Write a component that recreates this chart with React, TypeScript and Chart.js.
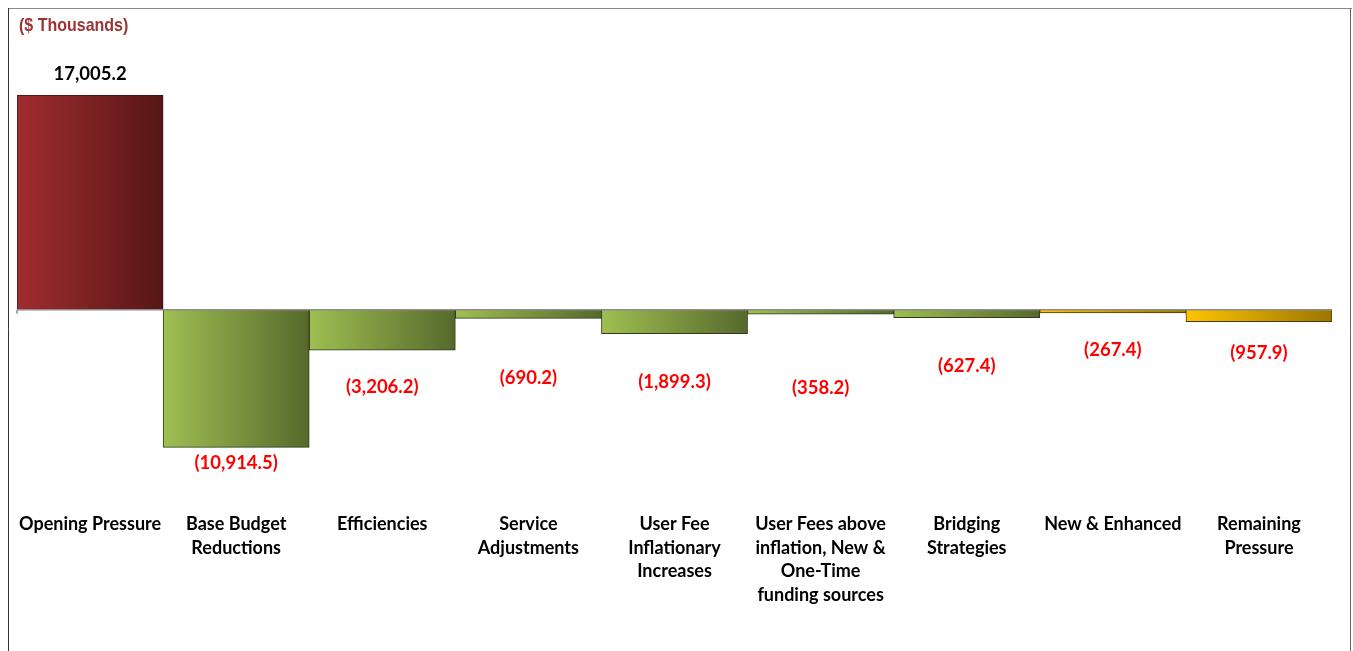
import React, { useEffect, useRef } from "react";
import { Chart, registerables } from "chart.js";

Chart.register(...registerables);

const categories: string[][] = [
  ["Opening Pressure"],
  ["Base Budget", "Reductions"],
  ["Efficiencies"],
  ["Service", "Adjustments"],
  ["User Fee", "Inflationary", "Increases"],
  ["User Fees above", "inflation, New &", "One-Time", "funding sources"],
  ["Bridging", "Strategies"],
  ["New & Enhanced"],
  ["Remaining", "Pressure"],
];

const values: number[] = [17005.2, -10914.5, -3206.2, -690.2, -1899.3, -358.2, -627.4, -267.4, -957.9];

// colour group per bar: 0 = red, 1 = green, 2 = yellow
const colourGroup: number[] = [0, 1, 1, 1, 1, 1, 1, 2, 2];

// label distance (px) from the bar end, as placed in the reference
const labelOffsets: number[] = [21, 16, 37, 60, 48, 74, 48, 37, 31];

const yMax = 17005.2;
const yMin = -15000;

const gradients = [
  ["#a02c2f", "#571616"],
  ["#9fbf52", "#56692c"],
  ["#ffc400", "#9c7600"],
];
const borders = ["#3d1212", "#2e3a18", "#4a3800"];

const FONT = "Lato, 'Noto Sans', sans-serif";

const fmt = (v: number) => {
  const s = Math.abs(v).toLocaleString("en-US", { minimumFractionDigits: 1, maximumFractionDigits: 1 });
  return v < 0 ? `(${s})` : s;
};

const overlayPlugin = {
  id: "overlay",
  beforeDraw(chart: any) {
    const { ctx, width, height } = chart;
    ctx.save();
    ctx.fillStyle = "#ffffff";
    ctx.fillRect(0, 0, width, height);
    // outer frame: top, left, right
    ctx.lineWidth = 1;
    ctx.strokeStyle = "#8a8a8a";
    ctx.beginPath();
    ctx.moveTo(0, 0.5);
    ctx.lineTo(width, 0.5);
    ctx.stroke();
    ctx.strokeStyle = "#333333";
    ctx.beginPath();
    ctx.moveTo(0.5, 0);
    ctx.lineTo(0.5, height);
    ctx.stroke();
    ctx.strokeStyle = "#666666";
    ctx.beginPath();
    ctx.moveTo(width - 1.5, 0);
    ctx.lineTo(width - 1.5, height);
    ctx.stroke();
    ctx.restore();
  },
  afterDatasetsDraw(chart: any) {
    const { ctx, chartArea, scales } = chart;
    const xs = scales.x;
    const ys = scales.y;
    const y0 = ys.getPixelForValue(0);
    ctx.save();
    // zero line
    ctx.strokeStyle = "#8c8c8c";
    ctx.lineWidth = 1.5;
    ctx.beginPath();
    ctx.moveTo(chartArea.left, y0);
    ctx.lineTo(chartArea.right, y0);
    ctx.moveTo(chartArea.left, y0);
    ctx.lineTo(chartArea.left, y0 + 4);
    ctx.stroke();

    // value labels
    ctx.font = `bold 18.5px ${FONT}`;
    ctx.textAlign = "center";
    ctx.textBaseline = "middle";
    values.forEach((v, i) => {
      const x = xs.getPixelForValue(i);
      const yv = ys.getPixelForValue(v);
      if (v >= 0) {
        ctx.fillStyle = "#000000";
        ctx.fillText(fmt(v), x, yv - labelOffsets[i]);
      } else {
        ctx.fillStyle = "#ff0000";
        ctx.fillText(fmt(v), x, yv + labelOffsets[i]);
      }
    });

    // category labels
    ctx.font = `bold 18px ${FONT}`;
    ctx.fillStyle = "#000000";
    categories.forEach((lines, i) => {
      const x = xs.getPixelForValue(i);
      lines.forEach((ln, j) => {
        ctx.fillText(ln, x, chartArea.bottom + 25 + j * 23.7);
      });
    });

    // unit title (condensed)
    ctx.textAlign = "left";
    ctx.fillStyle = "#9b3535";
    ctx.font = `bold 18.5px 'Liberation Sans Narrow', 'Liberation Sans', Arial, sans-serif`;
    ctx.translate(11, 18);
    ctx.scale(0.865, 1);
    ctx.fillText("($ Thousands)", 0, 0);
    ctx.restore();
  },
};

export default function App() {
  const ref = useRef<HTMLCanvasElement | null>(null);

  useEffect(() => {
    const prevH = document.documentElement.style.overflow;
    const prevM = document.body.style.margin;
    document.documentElement.style.overflow = "hidden";
    document.body.style.margin = "0";
    if (!ref.current) return;
    const chart = new Chart(ref.current, {
      type: "bar",
      data: {
        labels: categories.map((c) => c.join(" ")),
        datasets: [
          {
            data: values,
            categoryPercentage: 1,
            barPercentage: 1,
            borderWidth: 1,
            borderColor: (c: any) => borders[colourGroup[c.dataIndex] ?? 1],
            backgroundColor: (c: any) => {
              const chart = c.chart;
              const area = chart.chartArea;
              const grp = colourGroup[c.dataIndex] ?? 1;
              if (!area || c.dataIndex == null) return gradients[grp][0];
              const xs = chart.scales.x;
              const cx = xs.getPixelForValue(c.dataIndex);
              const w = (area.right - area.left) / values.length;
              const g = chart.ctx.createLinearGradient(cx - w / 2, 0, cx + w / 2, 0);
              g.addColorStop(0, gradients[grp][0]);
              g.addColorStop(1, gradients[grp][1]);
              return g;
            },
          },
        ],
      },
      options: {
        responsive: false,
        animation: false,
        layout: { padding: { left: 9, right: 20, top: 87, bottom: 152 } },
        plugins: { legend: { display: false }, tooltip: { enabled: false }, title: { display: false } },
        scales: {
          x: { display: false },
          y: { display: false, min: yMin, max: yMax },
        },
      },
      plugins: [overlayPlugin],
    });
    return () => {
      chart.destroy();
      document.documentElement.style.overflow = prevH;
      document.body.style.margin = prevM;
    };
  }, []);

  return (
    <div style={{ padding: "8px 0 0 8px", background: "#ffffff" }}>
      <canvas ref={ref} width={1344} height={643} style={{ display: "block" }} />
    </div>
  );
}
